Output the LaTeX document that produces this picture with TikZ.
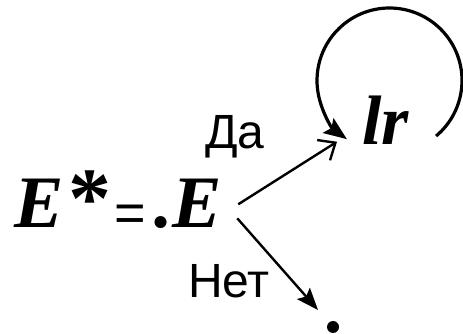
\documentclass[tikz,border=0pt]{standalone}
\usepackage{fontspec}
\setmainfont{Liberation Serif}
\newfontfamily\labelfont{Liberation Sans}
\usetikzlibrary{arrows.meta,calc}
\tikzset{
  big/.style={inner sep=0pt, font=\fontsize{74}{84}\selectfont\bfseries\itshape},
  lab/.style={inner sep=0pt, font=\labelfont\fontsize{48}{56}\selectfont},
  openarrow/.style={line width=2.4pt, -{Straight Barb[length=14pt,width=24pt,line width=2.4pt]}},
  fillarrow/.style={line width=2.4pt, -{Stealth[length=22pt,width=17pt,inset=4pt]}},
  loop/.style={line width=3.2pt, -{Stealth[length=23pt,width=18pt,inset=4pt]}}
}
\begin{document}
\begin{tikzpicture}[x=1pt,y=1pt]
\useasboundingbox (0,0) rectangle (463,334);
\node[big, anchor=base west] (lhs) at (14,106) {E\kern5pt{\fontsize{86}{90}\selectfont\upshape*}};
\node[inner sep=0pt, font=\labelfont\fontsize{54}{60}\selectfont, anchor=center] (eq) at (130.5,116) {=};
\node[big, anchor=base west] (rhs) at (154,106) {.E};
\node[big, anchor=base west, font=\fontsize{70}{84}\selectfont\bfseries\itshape] (lr) at (362,189) {lr};
\node[lab, anchor=base west] (da) at (205,185) {Да};
\node[lab, anchor=base west] (net) at (188,36) {Нет};
\node[circle, fill, minimum size=12pt, inner sep=0pt] (dot) at (333,7) {};
\coordinate (c) at (389.5,253.5);
\draw[openarrow] ($(rhs.east)+(16,0)$) -- ($(lr.west)+(-25,-21)$);
\draw[fillarrow] ($(rhs.east)+(15,-14)$) -- ($(dot)+(-15,17)$);
\draw[loop] ($(c)+(-50:72.5)$) arc[start angle=-50, end angle=234, radius=72.5];
\end{tikzpicture}
\end{document}
